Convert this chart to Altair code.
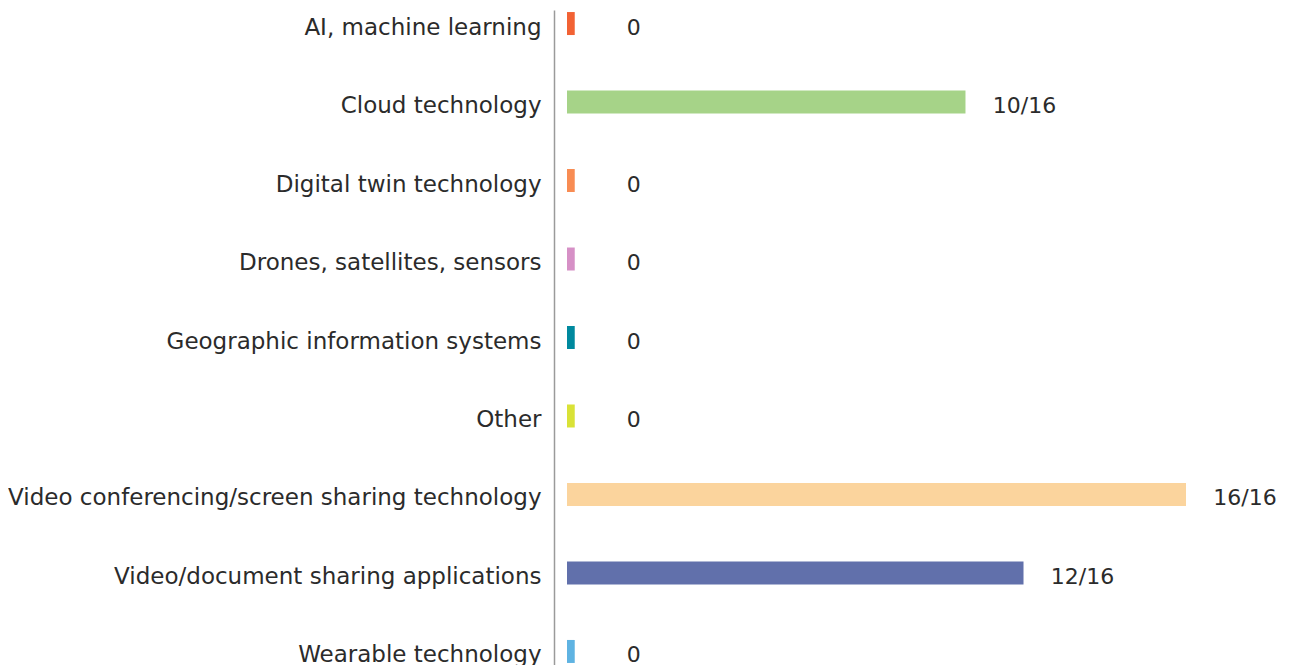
import altair as alt
import pandas as pd

categories = [
    "AI, machine learning",
    "Cloud technology",
    "Digital twin technology",
    "Drones, satellites, sensors",
    "Geographic information systems",
    "Other",
    "Video conferencing/screen sharing technology",
    "Video/document sharing applications",
    "Wearable technology",
]
bar_lengths = [0.2, 10.3, 0.2, 0.2, 0.2, 0.2, 16, 11.8, 0.2]
value_labels = ["0", "10/16", "0", "0", "0", "0", "16/16", "12/16", "0"]
colors = ["#F26234", "#A6D388", "#F88C53", "#D690C6", "#00899E",
          "#D9E237", "#FBD49D", "#6170AB", "#5FB3E2"]

df = pd.DataFrame({"cat": categories, "v": bar_lengths, "lab": value_labels})

FONT = "DejaVu Sans"

y_enc = alt.Y(
    "cat:N",
    sort=categories,
    scale=alt.Scale(paddingInner=0.707, paddingOuter=0.026),
    axis=alt.Axis(
        title=None, ticks=False, grid=False, offset=13, labelPadding=13,
        labelOffset=4,
        domainColor="#9a9a9a", domainWidth=1.5,
        labelFont=FONT, labelFontSize=23, labelColor="#2b2b2b", labelLimit=0,
    ),
)
x_scale = alt.Scale(domain=[0, 16], nice=False, zero=True)

bars = alt.Chart(df).mark_bar().encode(
    y=y_enc,
    x=alt.X("v:Q", scale=x_scale, axis=None),
    color=alt.Color("cat:N", scale=alt.Scale(domain=categories, range=colors), legend=None),
)

texts = alt.Chart(df).mark_text(
    align="center", baseline="middle", dx=59, dy=4,
    font=FONT, fontSize=22, color="#2b2b2b",
).encode(
    y=alt.Y("cat:N", sort=categories),
    x=alt.X("v:Q", scale=x_scale),
    text="lab:N",
)

chart = (bars + texts).properties(
    width=619, height=655,
    autosize=alt.AutoSizeParams(type="none"),
    padding={"left": 559, "top": 2, "right": 96, "bottom": 0},
).configure_view(stroke=None)

chart.save("out.html", embed_options={"renderer": "svg", "actions": False})
